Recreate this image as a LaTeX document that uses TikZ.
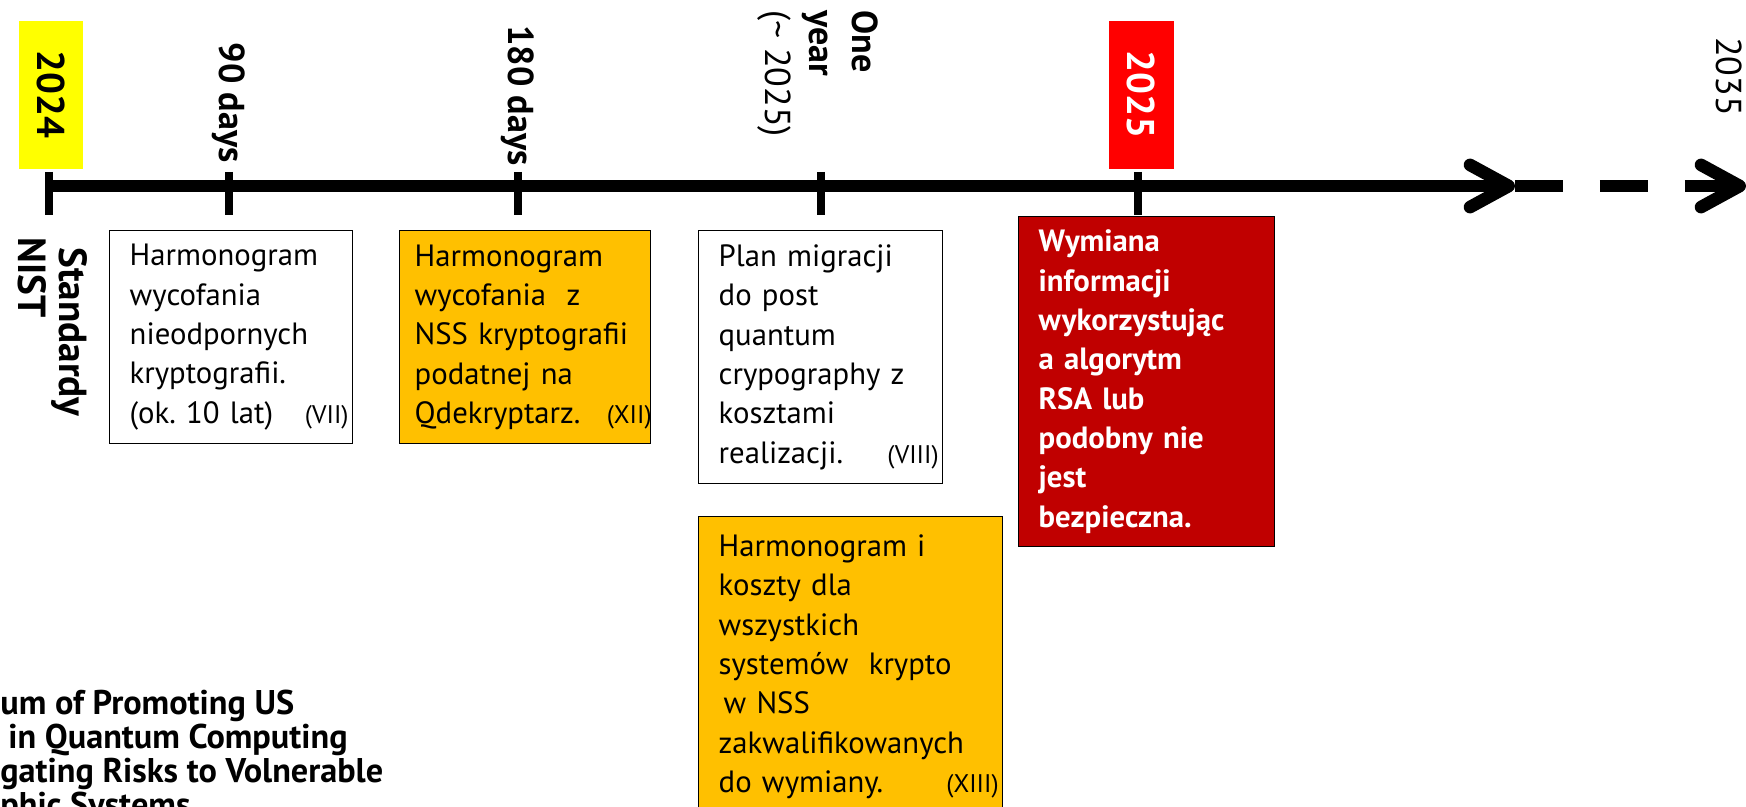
\documentclass[tikz,border=0pt]{standalone}
\usepackage{fontspec}
\setmainfont{PT Sans}
\usepackage{xcolor}
\usepackage{tikz}
\usetikzlibrary{arrows.meta}

\definecolor{markyellow}{HTML}{FFFF00}
\definecolor{markred}{HTML}{FF0000}
\definecolor{noteorange}{HTML}{FFC000}
\definecolor{notered}{HTML}{C00000}

\frenchspacing
\newcommand{\notefont}{\fontsize{17.5}{22.4}\selectfont}
\newcommand{\labelfont}{\fontsize{20.5}{23}\selectfont}
\newcommand{\reftag}[1]{\hfill\makebox[0pt][r]{\fontsize{14.5}{16}\selectfont(#1)\kern-0.32cm}}

\tikzset{
  timeaxis/.style={line width=7.2pt},
  tickmark/.style={line width=4.3pt},
  barbtip/.style={-{Straight Barb[length=22pt, width=24pt, line cap=round, line join=round]}},
  daylabel/.style={rotate=-90, font=\labelfont\bfseries, inner sep=0pt},
  yearbox/.style={rotate=-90, font=\fontsize{22}{24}\selectfont\bfseries, minimum width=2.96cm, minimum height=1.3cm, inner sep=0pt},
  notebox/.style={draw, line width=0.8pt, align=left, anchor=north west, inner xsep=0.4cm, inner ysep=0pt, font=\notefont}
}

\begin{document}
\begin{tikzpicture}[x=0.02cm, y=-0.02cm]
    \path[use as bounding box] (0,0) rectangle (1746,807);
    \clip (0,0) rectangle (1746,807);

    % Points on the axis
    \coordinate (t2024) at (49,186);
    \coordinate (t90) at (229,186);
    \coordinate (t180) at (518,186);
    \coordinate (tyear) at (821,186);
    \coordinate (t2025) at (1138,186);
    \coordinate (axisend) at (1515,186);
    \coordinate (farend) at (1746,186);

    % Axis
    \draw[timeaxis, barbtip] (t2024) -- (axisend);
    \draw[timeaxis, barbtip, dash pattern=on 27.3pt off 21pt] (axisend) -- (farend);

    % Ticks
    \foreach \t in {t2024, t90, t180, tyear, t2025}
        \draw[tickmark] (\t) ++(0,-14) -- ++(0,43);

    % Year markers
    \node[yearbox, fill=markyellow, anchor=east] (y2024) at (51,169) {2024};
    \node[yearbox, fill=markred, text=white, anchor=east] (y2025) at (1141,169) {2025};
    \node[daylabel, font=\labelfont, anchor=west] (y2035) at (1729,37) {2035};

    % Day labels
    \node[daylabel, anchor=east] (d90) at (229,163) {90 days};
    \node[daylabel, anchor=east] (d180) at (518,166) {180 days};
    \node[daylabel, font=\fontsize{20.5}{25}\selectfont, align=left, anchor=north west] (dyear) at (879,10)
        {\textbf{One}\\\textbf{year}\\(\textasciitilde{} 2025)};
    \node[daylabel, font=\fontsize{22.3}{23.3}\selectfont\bfseries, align=left, anchor=north west] (nist) at (88,237)
        {\hspace*{0.2cm}Standardy\\NIST};

    % Note 1
    \node[notebox, text width=4.06cm, minimum height=4.26cm] (n1) at (109,230)
        {Harmonogram\\wycofania\\nieodpornych\\kryptografii.\\(ok. 10 lat)\reftag{VII}};

    % Note 2
    \node[notebox, fill=noteorange, inner xsep=0.3cm, text width=4.42cm, minimum height=4.26cm] (n2) at (399,230)
        {Harmonogram\\wycofania~ z\\NSS kryptografii\\podatnej na\\Qdekryptarz.\reftag{XII}};

    % Note 3
    \node[notebox, text width=4.08cm, minimum height=5.06cm] (n3) at (698,230)
        {Plan migracji\\do post\\quantum\\crypography z\\kosztami\\realizacji.\reftag{VIII}};

    % Note 4
    \node[notebox, fill=noteorange, text width=5.28cm, minimum height=6.0cm] (n4) at (698,516)
        {Harmonogram i\\koszty dla\\wszystkich\\systemów~ krypto\\\hspace*{0.1cm}w NSS\\zakwalifikowanych\\do wymiany.\reftag{XIII}};

    % Note 5
    \node[notebox, fill=notered, text=white, font=\notefont\bfseries, text width=4.32cm, minimum height=6.6cm] (n5) at (1018,216)
        {Wymiana\\informacji\\wykorzystując\\a algorytm\\RSA lub\\podobny nie\\jest\\bezpieczna.};

    % Memorandum title
    \node[font=\fontsize{19.5}{19.3}\selectfont\bfseries, align=left, anchor=north west, inner sep=0pt] (memo) at (0,690)
        {um of Promoting US\\\hspace*{0.16cm}in Quantum Computing\\gating Risks to Volnerable\\phic Systems};
\end{tikzpicture}
\end{document}
